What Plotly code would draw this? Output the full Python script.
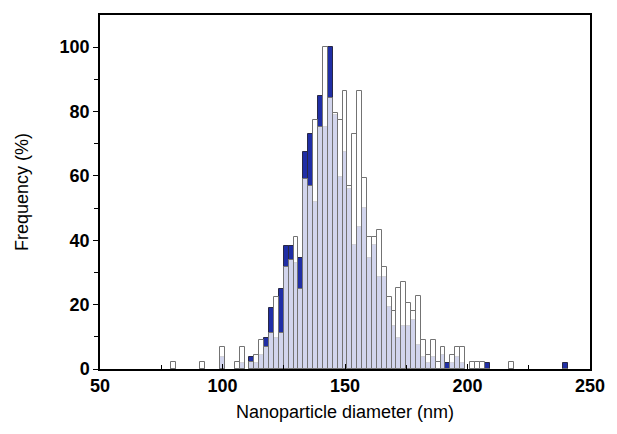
import plotly.graph_objects as go

# Bin centres (nm), bin width 2 nm
centers = [80, 92, 100, 106, 108, 112, 114, 116, 118, 120, 122, 124, 126, 128, 130,
           132, 134, 136, 138, 140, 142, 144, 146, 148, 150, 152, 154, 156, 158, 160,
           162, 164, 166, 168, 170, 172, 174, 176, 178, 180, 182, 184, 186, 188, 190,
           192, 194, 196, 198, 202, 204, 206, 208, 218, 240]

# White (outlined) series frequency (%)
white_vals = [2.2, 2.2, 6.7, 2.2, 6.7, 2.2, 4.4, 8.9, 6.7, 11.1, 22.5, 11.1, 31.6, 33.9, 40.9,
              24.9, 59.0, 56.9, 77.4, 75.1, 100.0, 84.1, 79.7, 77.5, 86.5, 57.0, 72.9, 86.5, 59.3, 40.9,
              40.9, 43.2, 31.7, 22.4, 18.0, 25.1, 27.1, 20.4, 18.0, 22.6, 9.0, 4.4, 9.0, 2.2, 6.7,
              0.0, 4.4, 6.7, 6.7, 2.2, 2.2, 2.2, 0.0, 2.2, 0.0]

# Blue series frequency (%)
blue_vals = [0.0, 0.0, 3.8, 0.0, 1.9, 3.8, 2.0, 4.5, 9.5, 19.0, 9.5, 25.0, 38.3, 38.3, 32.8,
             34.4, 67.3, 73.0, 51.8, 84.8, 75.1, 100.0, 79.0, 59.8, 67.5, 56.0, 38.5, 44.2, 50.0, 34.5,
             38.4, 28.7, 28.7, 19.3, 13.4, 9.5, 13.4, 13.4, 15.2, 7.5, 3.8, 2.0, 3.8, 0.0, 4.5,
             1.9, 1.9, 3.8, 1.9, 0.0, 0.0, 0.0, 1.9, 0.0, 1.9]

x_ticks = [50, 100, 150, 200, 250]
y_ticks = [0, 20, 40, 60, 80, 100]

fig = go.Figure()
fig.add_trace(go.Bar(
    x=centers, y=blue_vals, width=2,
    marker=dict(color="rgb(32,46,165)", line=dict(color="rgb(40,40,70)", width=1)),
    showlegend=False,
))
fig.add_trace(go.Bar(
    x=centers, y=white_vals, width=2,
    marker=dict(color="rgba(255,255,255,0.8)", line=dict(color="rgb(115,115,115)", width=1)),
    showlegend=False,
))

font_family = "Liberation Sans, Arial, sans-serif"
fig.update_layout(
    width=617, height=434,
    margin=dict(l=100, r=19, t=15, b=65),
    barmode="overlay",
    bargap=0,
    plot_bgcolor="white",
    paper_bgcolor="white",
    font=dict(family=font_family, color="black"),
)
fig.update_xaxes(
    range=[50, 250],
    tickmode="array", tickvals=x_ticks, ticktext=[str(v) for v in x_ticks],
    ticks="inside", ticklen=5, tickwidth=1.3, tickcolor="black",
    minor=dict(tickvals=[75, 125, 175, 225], ticks="inside", ticklen=4, tickwidth=1.3, tickcolor="black"),
    tickfont=dict(size=18, family=font_family, weight="bold"),
    showline=True, linecolor="black", linewidth=1.5, mirror=True,
    showgrid=False, zeroline=False,
    title=dict(text="Nanoparticle diameter (nm)", font=dict(size=18, family=font_family), standoff=10),
)
fig.update_yaxes(
    range=[0, 110],
    tickmode="array", tickvals=y_ticks, ticktext=[str(v) for v in y_ticks],
    ticks="outside", ticklen=5, tickwidth=1.3, tickcolor="black",
    minor=dict(tickvals=[10, 30, 50, 70, 90], ticks="outside", ticklen=4, tickwidth=1.3, tickcolor="black"),
    tickfont=dict(size=18, family=font_family, weight="bold"),
    showline=True, linecolor="black", linewidth=1.5, mirror=True,
    showgrid=False, zeroline=False,
    title=dict(text="Frequency (%)", font=dict(size=18, family=font_family), standoff=26),
)

fig.write_html("out.html", post_script="document.body.style.margin='0';",
               config={"displayModeBar": False})
